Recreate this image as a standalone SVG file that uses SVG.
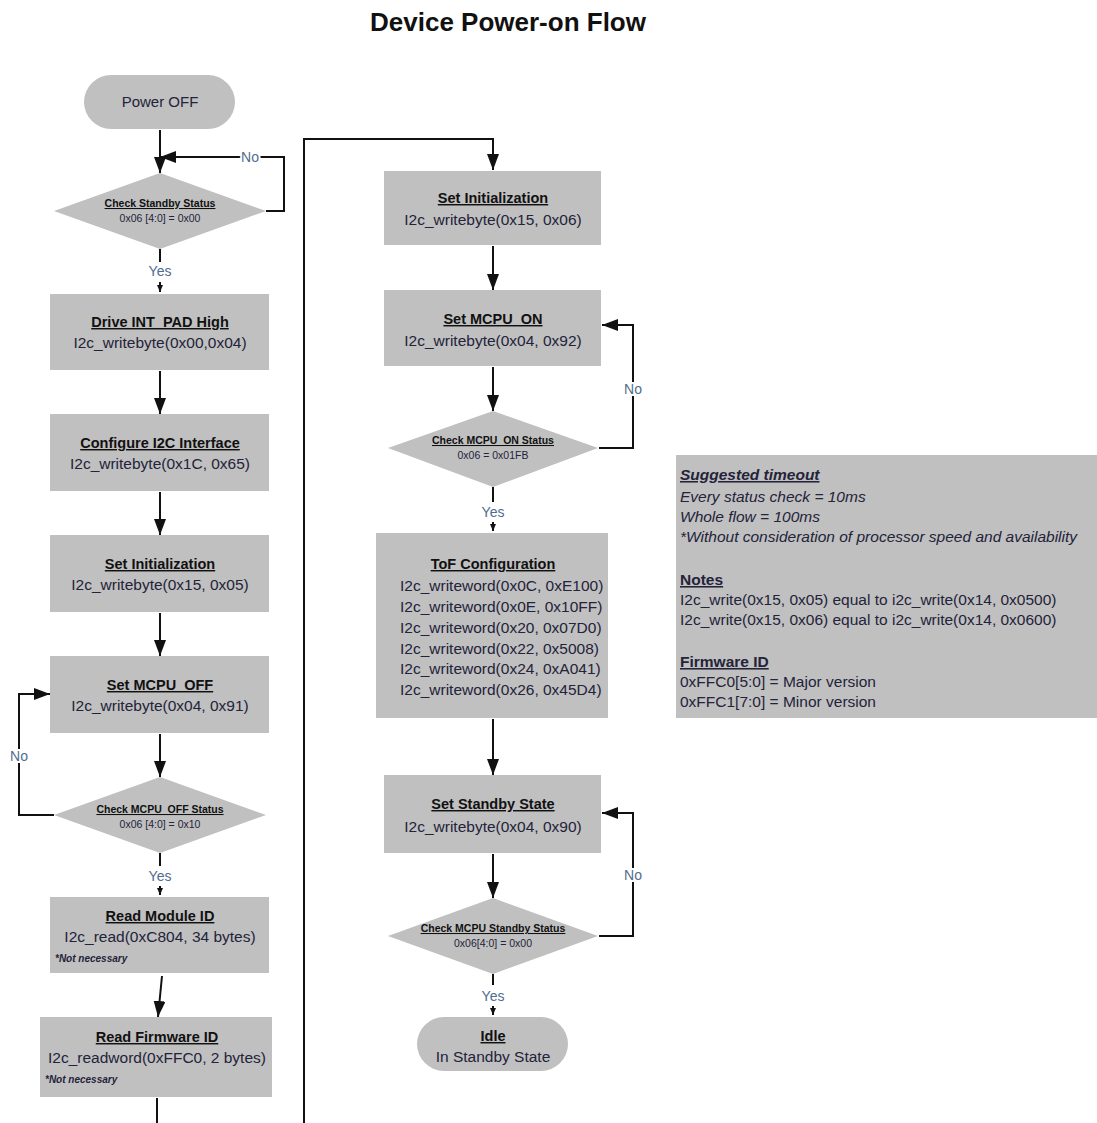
<svg xmlns="http://www.w3.org/2000/svg" width="1097" height="1123" viewBox="0 0 1097 1123">
<defs>
<marker id="ah" viewBox="0 -6 16 12" refX="16" refY="0" markerWidth="16" markerHeight="12" markerUnits="userSpaceOnUse" orient="auto"><path d="M0,-6 L16,0 L0,6 z" fill="#111"/></marker>
<marker id="as" viewBox="0 -3 7 6" refX="7" refY="0" markerWidth="7" markerHeight="6" markerUnits="userSpaceOnUse" orient="auto"><path d="M0,-3 L7,0 L0,3 z" fill="#111"/></marker>
<style>
text{font-family:"Liberation Sans",Arial,sans-serif;fill:#23233a}
.box{fill:#c0c0c0}
.t{font-size:14.5px;font-weight:bold;text-decoration:underline;text-anchor:middle;fill:#111}
.c{font-size:15.5px;text-anchor:middle}
.cl{font-size:15.5px}
.n{font-size:10px;font-style:italic;font-weight:bold}
.dt{font-size:10.5px;font-weight:bold;text-decoration:underline;text-anchor:middle;fill:#111}
.dc{font-size:10.5px;text-anchor:middle}
.lbl{font-size:14px;text-anchor:middle;fill:#4f6d8f;stroke:#fff;stroke-width:4;paint-order:stroke}
.ln{fill:none;stroke:#111;stroke-width:2}
.big{marker-end:url(#ah)}
.sm{marker-end:url(#as)}
.nt{font-size:15.5px}
.nh{font-size:15.5px;font-weight:bold;text-decoration:underline}
.ni{font-size:15.5px;font-style:italic}
</style>
</defs>
<text x="508" y="31" style="font-size:26px;font-weight:bold;text-anchor:middle;fill:#111">Device Power-on Flow</text>

<g id="connectors">
<path class="ln big" d="M160,130 V173"/>
<path class="ln big" d="M266,211 H284 V157 H160"/>
<path class="ln" d="M160,249 V262"/>
<path class="ln sm" d="M160,282 V292"/>
<path class="ln big" d="M160,371 V414"/>
<path class="ln big" d="M160,492 V535"/>
<path class="ln big" d="M160,613 V656"/>
<path class="ln big" d="M160,734 V777"/>
<path class="ln big" d="M54,815 H19 V694 H50"/>
<path class="ln" d="M160,853 V866"/>
<path class="ln sm" d="M160,886 V895"/>
<path class="ln big" d="M162,976 L158,1017"/>
<path class="ln" d="M157,1098 V1123"/>
<path class="ln big" d="M304,1123 V139 H493 V170"/>
<path class="ln big" d="M493,246 V290"/>
<path class="ln big" d="M493,367 V411"/>
<path class="ln big" d="M599,448 H633 V325 H602"/>
<path class="ln" d="M493,487 V502"/>
<path class="ln sm" d="M493,522 V531"/>
<path class="ln big" d="M493,719 V775"/>
<path class="ln big" d="M493,854 V898"/>
<path class="ln big" d="M599,936 H633 V813 H602"/>
<path class="ln" d="M493,974 V985"/>
<path class="ln sm" d="M493,1006 V1015"/>
<text class="lbl" x="250" y="162">No</text>
<text class="lbl" x="19" y="761">No</text>
<text class="lbl" x="160" y="276" style="stroke:none">Yes</text>
<text class="lbl" x="160" y="881" style="stroke:none">Yes</text>
<text class="lbl" x="633" y="394">No</text>
<text class="lbl" x="633" y="880">No</text>
<text class="lbl" x="493" y="517" style="stroke:none">Yes</text>
<text class="lbl" x="493" y="1001" style="stroke:none">Yes</text>
</g>

<g id="power-off"><rect class="box" x="84" y="75" width="151" height="54" rx="27"/><text class="c" x="160" y="107" style="font-size:15px">Power OFF</text></g>

<g id="check-standby"><polygon class="box" points="160,173 266,211 160,249 54,211"/><text class="dt" x="160" y="207">Check Standby Status</text><text class="dc" x="160" y="222">0x06 [4:0] = 0x00</text></g>

<g id="drive-int"><rect class="box" x="50" y="294" width="219" height="76"/><text class="t" x="160" y="327">Drive INT_PAD High</text><text class="c" x="160" y="348">I2c_writebyte(0x00,0x04)</text></g>

<g id="config-i2c"><rect class="box" x="50" y="414" width="219" height="77"/><text class="t" x="160" y="448">Configure I2C Interface</text><text class="c" x="160" y="469">I2c_writebyte(0x1C, 0x65)</text></g>

<g id="set-init-1"><rect class="box" x="50" y="535" width="219" height="77"/><text class="t" x="160" y="569">Set Initialization</text><text class="c" x="160" y="590">I2c_writebyte(0x15, 0x05)</text></g>

<g id="mcpu-off"><rect class="box" x="50" y="656" width="219" height="77"/><text class="t" x="160" y="690">Set MCPU_OFF</text><text class="c" x="160" y="711">I2c_writebyte(0x04, 0x91)</text></g>

<g id="check-mcpu-off"><polygon class="box" points="160,777 266,815 160,853 54,815"/><text class="dt" x="160" y="813">Check MCPU_OFF Status</text><text class="dc" x="160" y="828">0x06 [4:0] = 0x10</text></g>

<g id="read-module"><rect class="box" x="50" y="897" width="219" height="76"/><text class="t" x="160" y="921">Read Module ID</text><text class="c" x="160" y="942">I2c_read(0xC804, 34 bytes)</text><text class="n" x="55" y="962">*Not necessary</text></g>

<g id="read-fw"><rect class="box" x="40" y="1017" width="232" height="80"/><text class="t" x="157" y="1042">Read Firmware ID</text><text class="c" x="157" y="1063">I2c_readword(0xFFC0, 2 bytes)</text><text class="n" x="45" y="1083">*Not necessary</text></g>

<g id="set-init-2"><rect class="box" x="384" y="171" width="217" height="74"/><text class="t" x="493" y="203">Set Initialization</text><text class="c" x="493" y="225">I2c_writebyte(0x15, 0x06)</text></g>

<g id="mcpu-on"><rect class="box" x="384" y="290" width="217" height="76"/><text class="t" x="493" y="324">Set MCPU_ON</text><text class="c" x="493" y="346">I2c_writebyte(0x04, 0x92)</text></g>

<g id="check-mcpu-on"><polygon class="box" points="493,411 598,448 493,487 388,448"/><text class="dt" x="493" y="444">Check MCPU_ON Status</text><text class="dc" x="493" y="459">0x06 = 0x01FB</text></g>

<g id="tof"><rect class="box" x="376" y="533" width="232" height="185"/><text class="t" x="493" y="569">ToF Configuration</text>
<text class="cl" x="400" y="591">I2c_writeword(0x0C, 0xE100)</text>
<text class="cl" x="400" y="612">I2c_writeword(0x0E, 0x10FF)</text>
<text class="cl" x="400" y="633">I2c_writeword(0x20, 0x07D0)</text>
<text class="cl" x="400" y="654">I2c_writeword(0x22, 0x5008)</text>
<text class="cl" x="400" y="674">I2c_writeword(0x24, 0xA041)</text>
<text class="cl" x="400" y="695">I2c_writeword(0x26, 0x45D4)</text></g>

<g id="standby-state"><rect class="box" x="384" y="775" width="217" height="78"/><text class="t" x="493" y="809">Set Standby State</text><text class="c" x="493" y="832">I2c_writebyte(0x04, 0x90)</text></g>

<g id="check-mcpu-standby"><polygon class="box" points="493,898 598,936 493,974 388,936"/><text class="dt" x="493" y="932">Check MCPU Standby Status</text><text class="dc" x="493" y="947">0x06[4:0] = 0x00</text></g>

<g id="idle"><rect class="box" x="417" y="1017" width="151" height="54" rx="27"/><text class="t" x="493" y="1041">Idle</text><text class="c" x="493" y="1062">In Standby State</text></g>

<g id="notes"><rect class="box" x="676" y="455" width="421" height="263"/>
<text class="nh" x="680" y="480" style="font-style:italic">Suggested timeout</text>
<text class="ni" x="680" y="502">Every status check = 10ms</text>
<text class="ni" x="680" y="522">Whole flow = 100ms</text>
<text class="ni" x="680" y="542">*Without consideration of processor speed and availability</text>
<text class="nh" x="680" y="585">Notes</text>
<text class="nt" x="680" y="605">I2c_write(0x15, 0x05) equal to i2c_write(0x14, 0x0500)</text>
<text class="nt" x="680" y="625">I2c_write(0x15, 0x06) equal to i2c_write(0x14, 0x0600)</text>
<text class="nh" x="680" y="667">Firmware ID</text>
<text class="nt" x="680" y="687">0xFFC0[5:0] = Major version</text>
<text class="nt" x="680" y="707">0xFFC1[7:0] = Minor version</text></g>
</svg>
